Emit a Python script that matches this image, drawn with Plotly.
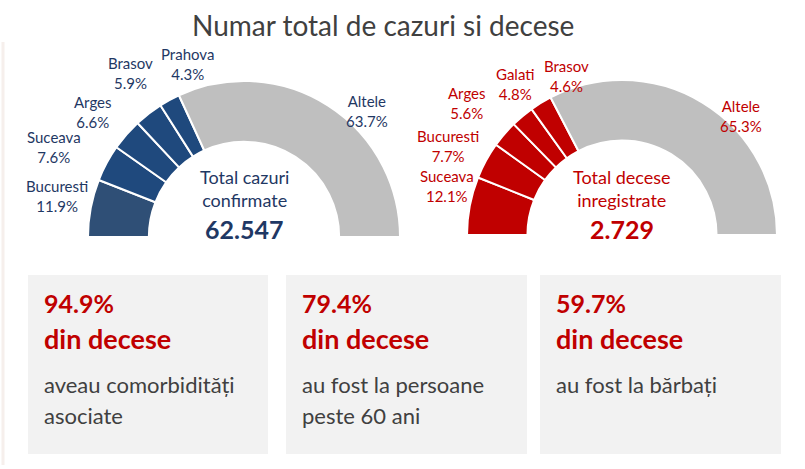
import math
import plotly.graph_objects as go

# ---------------- data ----------------
title_text = "Numar total de cazuri si decese"

cases_labels = ["Bucuresti", "Suceava", "Arges", "Brasov", "Prahova", "Altele"]
cases_pct = [11.9, 7.6, 6.6, 5.9, 4.3, 63.7]
cases_total = "62.547"
cases_center = "Total cazuri<br>confirmate"

deaths_labels = ["Suceava", "Bucuresti", "Arges", "Galati", "Brasov", "Altele"]
deaths_pct = [12.1, 7.7, 5.6, 4.8, 4.6, 65.3]
deaths_total = "2.729"
deaths_center = "Total decese<br>inregistrate"

box_values = ["94.9%", "79.4%", "59.7%"]
box_head = "din decese"
box_texts = [["aveau comorbidități", "asociate"],
             ["au fost la persoane", "peste 60 ani"],
             ["au fost la bărbați"]]

# ---------------- style ----------------
W, H = 805, 469
FONT = "Lato"
BLUE_DARK = "#1F497D"
BLUE_FIRST = "#2F4F76"
BLUE_TEXT = "#1F3864"
RED = "#C00000"
GREY = "#BFBFBF"
TITLE_COL = "#404040"
BOX_FILL = "#F2F2F2"
BOX_TEXT = "#404040"

# pixel geometry of the two gauges (centre x, centre y, outer radius)
gauges = [
    dict(cx=244, cy=237, r=156),
    dict(cx=622, cy=235, r=155),
]
HOLE = 0.61
# label offsets (pixels) from the slice's outer-edge midpoint
label_offsets = [
    [(-34, -12), (-53, -16), (-33, -23), (-18, -41), (18, -36), (39, 5)],
    [(-23, -20), (-38, -15), (-37, -31), (-7, -32), (26, -27), (39, 13)],
]
box_x = [(28, 268), (286, 527), (540, 781)]
box_y = (275, 454)


def xp(x):
    return x / W


def yp(y):
    return 1 - y / H


fig = go.Figure()
annotations = []

series = [
    (cases_labels, cases_pct, [BLUE_FIRST] + [BLUE_DARK] * 4 + [GREY], BLUE_TEXT,
     cases_center, cases_total, BLUE_TEXT),
    (deaths_labels, deaths_pct, [RED] * 5 + [GREY], RED,
     deaths_center, deaths_total, RED),
]

for gi, (labels, pct, colors, lab_col, ctext, total, ccol) in enumerate(series):
    g = gauges[gi]
    cx, cy, r = g["cx"], g["cy"], g["r"]
    hidden = sum(pct)
    fig.add_trace(go.Pie(
        labels=labels + ["_hidden"],
        values=pct + [hidden],
        sort=False,
        direction="clockwise",
        rotation=270,
        hole=HOLE,
        textinfo="none",
        hoverinfo="skip",
        showlegend=False,
        marker=dict(colors=colors + ["rgba(0,0,0,0)"],
                    line=dict(color=["white"] * len(labels) + ["rgba(0,0,0,0)"],
                              width=[2] * len(labels) + [0])),
        domain=dict(x=[xp(cx - r), xp(cx + r)], y=[yp(cy + r), yp(cy - r)]),
    ))
    # outside labels, placed relative to the middle of each slice's outer edge
    total_v = sum(pct) * 2
    cum = 0
    for i, (lab, v) in enumerate(zip(labels, pct)):
        mid = (cum + v / 2) / total_v * 2 * math.pi  # from 9 o'clock, clockwise
        cum += v
        ox, oy = label_offsets[gi][i]
        lx = cx - r * math.cos(mid) + ox
        ly = cy - r * math.sin(mid) + oy
        annotations.append(dict(
            x=xp(lx), y=yp(ly), xref="paper", yref="paper",
            text=f"{lab}<br>{v:.1f}%", showarrow=False,
            font=dict(family=FONT, size=15, color=lab_col),
            xanchor="center", yanchor="middle", align="center"))
    # centre text
    annotations.append(dict(
        x=xp(cx), y=yp(188), xref="paper", yref="paper",
        text=ctext, showarrow=False,
        font=dict(family=FONT, size=18, color=ccol),
        xanchor="center", yanchor="middle", align="center"))
    annotations.append(dict(
        x=xp(cx), y=yp(229), xref="paper", yref="paper",
        text=f"<b>{total}</b>", showarrow=False,
        font=dict(family=FONT, size=25, color=ccol),
        xanchor="center", yanchor="middle", align="center"))

shapes = []
for bi, (x0, x1) in enumerate(box_x):
    shapes.append(dict(type="rect", xref="paper", yref="paper",
                       x0=xp(x0), x1=xp(x1), y0=yp(box_y[1]), y1=yp(box_y[0]),
                       fillcolor=BOX_FILL, line=dict(width=0), layer="below"))
    tx = x0 + 14
    annotations.append(dict(
        x=xp(tx), y=yp(303), xref="paper", yref="paper",
        text=f"<b>{box_values[bi]}</b>", showarrow=False,
        font=dict(family=FONT, size=25, color=RED),
        xanchor="left", yanchor="middle", align="left"))
    annotations.append(dict(
        x=xp(tx), y=yp(338), xref="paper", yref="paper",
        text=f"<b>{box_head}</b>", showarrow=False,
        font=dict(family=FONT, size=27, color=RED),
        xanchor="left", yanchor="middle", align="left"))
    for li, line in enumerate(box_texts[bi]):
        annotations.append(dict(
            x=xp(tx), y=yp(384 + 31 * li), xref="paper", yref="paper",
            text=line, showarrow=False,
            font=dict(family=FONT, size=22, color=BOX_TEXT),
            xanchor="left", yanchor="middle", align="left"))

# faint left border line
shapes.append(dict(type="line", xref="paper", yref="paper",
                   x0=xp(3), x1=xp(3), y0=yp(465), y1=yp(42),
                   line=dict(color="#F6EFEC", width=3), layer="below"))

annotations.append(dict(
    x=xp(383), y=yp(25), xref="paper", yref="paper",
    text=title_text, showarrow=False,
    font=dict(family=FONT, size=28, color=TITLE_COL),
    xanchor="center", yanchor="middle"))

fig.update_layout(
    width=W, height=H,
    margin=dict(l=0, r=0, t=0, b=0),
    paper_bgcolor="white", plot_bgcolor="white",
    annotations=annotations, shapes=shapes,
    showlegend=False,
)

fig.write_html("out.html")
